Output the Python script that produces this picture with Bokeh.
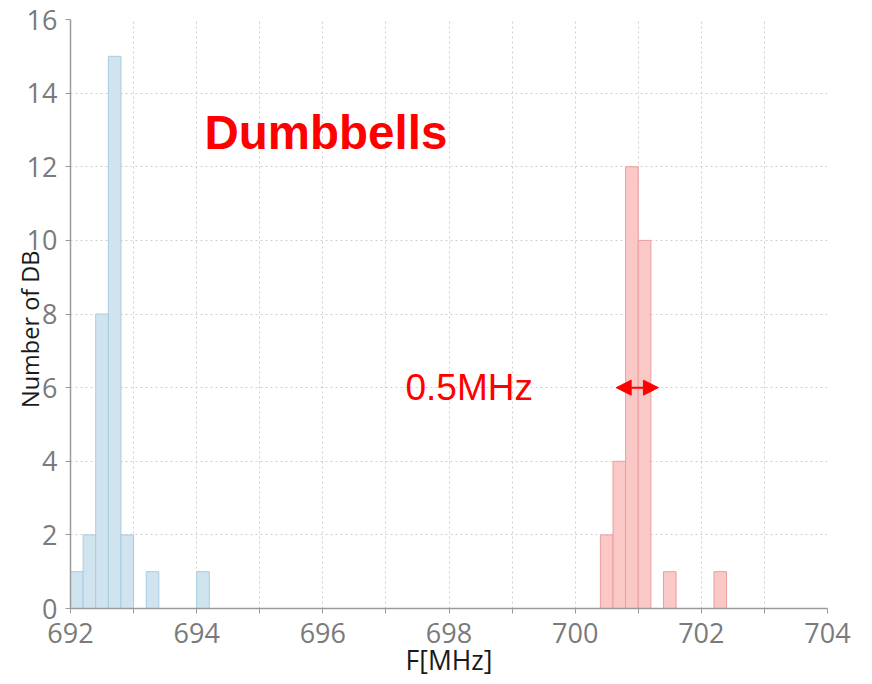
import math

from bokeh.embed import file_html
from bokeh.models import Arrow, FixedTicker, Label, NormalHead
from bokeh.plotting import figure
from bokeh.resources import INLINE

# Histogram of dumbbell resonance frequencies, 0.2 MHz bins
bin_width = 0.2
low_bin_start = [692.0, 692.2, 692.4, 692.6, 692.8, 693.2, 694.0]
low_counts = [1, 2, 8, 15, 2, 1, 1]
high_bin_start = [700.4, 700.6, 700.8, 701.0, 701.4, 702.2]
high_counts = [2, 4, 12, 10, 1, 1]

x_major_ticks = [692, 694, 696, 698, 700, 702, 704]
x_minor_ticks = [693, 695, 697, 699, 701, 703]
y_ticks = [0, 2, 4, 6, 8, 10, 12, 14, 16]

# Width annotation of the high-frequency peak
width_label = "0.5MHz"
arrow_x0, arrow_x1, arrow_y = 700.65, 701.32, 6.0

title_text = "Dumbbells"
x_label = "F[MHz]"
y_label = "Number of DB"

RED = "#ff0000"
TICK_GREY = "#7a7a7a"
AXIS_GREY = "#9a9a9a"
GRID_GREY = "#cfcfcf"
NBSP = "\u00a0"

p = figure(
    width=872, height=684,
    x_range=(692, 704), y_range=(0, 16),
    output_backend="svg", toolbar_location=None,
    min_border_left=70, min_border_right=45,
    min_border_top=19, min_border_bottom=76,
    background_fill_color="white", border_fill_color="white",
)
p.outline_line_color = None

p.quad(left=low_bin_start,
       right=[x + bin_width for x in low_bin_start],
       bottom=0, top=low_counts,
       fill_color="#d0e4f0", line_color="#a8cbe0", line_width=1)
p.quad(left=high_bin_start,
       right=[x + bin_width for x in high_bin_start],
       bottom=0, top=high_counts,
       fill_color="#fbc8c8", line_color="#eb9d9d", line_width=1)

# Axes
p.xaxis.ticker = FixedTicker(ticks=x_major_ticks, minor_ticks=x_minor_ticks)
p.yaxis.ticker = FixedTicker(ticks=y_ticks)
for ax in (p.xaxis, p.yaxis):
    ax.axis_line_color = AXIS_GREY
    ax.axis_line_width = 1.5
    ax.major_tick_line_color = AXIS_GREY
    ax.minor_tick_line_color = AXIS_GREY
    ax.major_tick_out = 5
    ax.major_tick_in = 0
    ax.minor_tick_out = 5
    ax.minor_tick_in = 0
    ax.major_label_text_font = "Open Sans"
    ax.major_label_text_font_size = "27px"
    ax.major_label_text_color = TICK_GREY
    ax.axis_label_text_font = "Open Sans"
    ax.axis_label_text_font_style = "normal"
    ax.axis_label_text_color = "#1a1a1a"
p.yaxis.minor_tick_line_color = None
p.xaxis.major_label_standoff = 9
p.yaxis.major_label_standoff = 8

p.xaxis.axis_label = x_label
p.xaxis.axis_label_text_font_size = "26.5px"
p.xaxis.axis_label_standoff = -4
# trailing no-break spaces nudge the vertical title slightly downwards
p.yaxis.axis_label = y_label + NBSP * 5
p.yaxis.axis_label_text_font_size = "23.5px"
p.yaxis.axis_label_standoff = -22

# Dotted grid, one vertical line per MHz
p.xgrid.grid_line_color = GRID_GREY
p.xgrid.grid_line_dash = "2 3"
p.xgrid.minor_grid_line_color = GRID_GREY
p.xgrid.minor_grid_line_dash = "2 3"
p.ygrid.grid_line_color = GRID_GREY
p.ygrid.grid_line_dash = "2 3"

# Title and width annotation
p.add_layout(Label(x=134, y=476, x_units="screen", y_units="screen",
                   text=title_text, text_baseline="alphabetic",
                   text_font="Liberation Sans", text_font_style="bold",
                   text_font_size="47.5px", text_color=RED))
p.add_layout(Label(x=335, y=221, x_units="screen", y_units="screen",
                   text=width_label, text_baseline="alphabetic",
                   text_font="Liberation Sans", text_font_size="37px",
                   text_color=RED))
p.add_layout(Arrow(x_start=arrow_x0, x_end=arrow_x1,
                   y_start=arrow_y, y_end=arrow_y,
                   line_color=RED, line_width=2,
                   start=NormalHead(size=15, fill_color=RED, line_color=RED),
                   end=NormalHead(size=15, fill_color=RED, line_color=RED)))

open("out.html", "w").write(file_html(p, INLINE))
